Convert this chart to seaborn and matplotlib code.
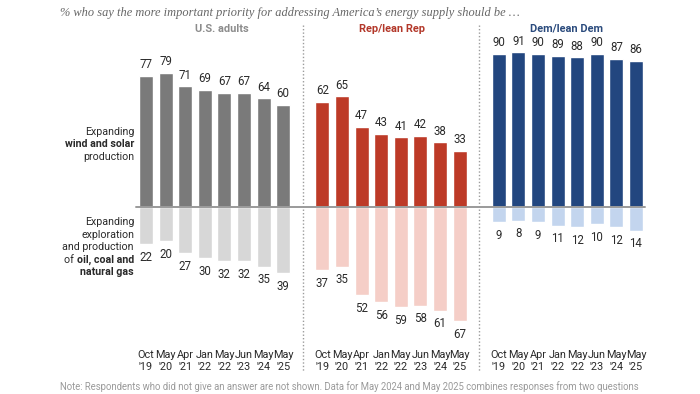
import matplotlib
matplotlib.use("Agg")
import matplotlib.pyplot as plt
import matplotlib.transforms as mtransforms
import seaborn as sns
import pandas as pd

# ---------------- data ----------------
waves = ["Oct\n'19", "May\n'20", "Apr\n'21", "Jan\n'22", "May\n'22", "Jun\n'23", "May\n'24", "May\n'25"]
groups = ["U.S. adults", "Rep/lean Rep", "Dem/lean Dem"]
wind_solar = {
    "U.S. adults": [77, 79, 71, 69, 67, 67, 64, 60],
    "Rep/lean Rep": [62, 65, 47, 43, 41, 42, 38, 33],
    "Dem/lean Dem": [90, 91, 90, 89, 88, 90, 87, 86],
}
fossil = {
    "U.S. adults": [22, 20, 27, 30, 32, 32, 35, 39],
    "Rep/lean Rep": [37, 35, 52, 56, 59, 58, 61, 67],
    "Dem/lean Dem": [9, 8, 9, 11, 12, 10, 12, 14],
}
subtitle = "% who say the more important priority for addressing America\u2019s energy supply should be \u2026"
note = ("Note: Respondents who did not give an answer are not shown. Data for May 2024 and May 2025 "
        "combines responses from two questions")

# ---------------- styles ----------------
dark = {"U.S. adults": "#7a7a7a", "Rep/lean Rep": "#bd3a27", "Dem/lean Dem": "#22467f"}
light = {"U.S. adults": "#d7d7d7", "Rep/lean Rep": "#f5cec7", "Dem/lean Dem": "#c3d5ee"}
title_col = {"U.S. adults": "#8c8c8c", "Rep/lean Rep": "#b3382a", "Dem/lean Dem": "#2b4b7d"}
text_col = "#2a2a2a"

sns.set_theme(style="white")
plt.rcParams["font.family"] = ["Roboto", "DejaVu Sans"]

W, H, DPI = 700, 394, 100
fig = plt.figure(figsize=(W / DPI, H / DPI), dpi=DPI)
ax = fig.add_axes([0, 0, 1, 1])

gap = len(waves) + 1
rows = []
for gi, g in enumerate(groups):
    for i, w in enumerate(waves):
        pos = gi * gap + i
        rows.append({"pos": pos, "value": wind_solar[g][i], "key": g + "_pos"})
        rows.append({"pos": pos, "value": -fossil[g][i], "key": g + "_neg"})
df = pd.DataFrame(rows)
palette = {}
for g in groups:
    palette[g + "_pos"] = dark[g]
    palette[g + "_neg"] = light[g]

sns.barplot(data=df, x="pos", y="value", hue="key", palette=palette, native_scale=True,
            width=0.72, dodge=False, saturation=1, legend=False, ax=ax, errorbar=None)

# pixel mapping
x0_px, step_px = 146.0, 19.6
zero_px, unit_px = 207.0, 1.70
ax.set_xlim(-x0_px / step_px, (W - x0_px) / step_px)
ax.set_ylim(-(H - zero_px) / unit_px, zero_px / unit_px)
ax.axis("off")

# zero line
ax.plot([-0.51, (gap * 3 - 1) - 0.54], [0, 0], color="#9a9a9a", lw=1.4, zorder=5)

# dividers
for gi in range(1, 3):
    xd = gi * gap - 1
    ax.plot([xd, xd], [(zero_px - 25) / unit_px, -(372 - zero_px) / unit_px],
            color="#9c9c9c", lw=1.0, ls=(0, (1, 1.5)), zorder=1)

# value labels
for gi, g in enumerate(groups):
    for i in range(len(waves)):
        pos = gi * gap + i
        v = wind_solar[g][i]
        ax.annotate(str(v), (pos, v), xytext=(0, 8), textcoords="offset points",
                    ha="center", va="center", fontsize=8.3, color=text_col)
        f = fossil[g][i]
        ax.annotate(str(f), (pos, -f), xytext=(0, -9.5), textcoords="offset points",
                    ha="center", va="center", fontsize=8.3, color=text_col)

# x tick labels
blend = mtransforms.blended_transform_factory(ax.transData, fig.transFigure)
for gi, g in enumerate(groups):
    for i, w in enumerate(waves):
        ax.text(gi * gap + i, 1 - 361 / H, w, transform=blend, ha="center", va="center",
                fontsize=7.8, color=text_col, linespacing=1.15)

# panel titles
title_x = {"U.S. adults": 222, "Rep/lean Rep": 392, "Dem/lean Dem": 567}
for g in groups:
    fig.text(title_x[g] / W, 1 - 29 / H, g, ha="center", va="center", fontsize=7.9,
             fontweight="bold", color=title_col[g])

# subtitle and note
fig.text(60 / W, 1 - 13 / H, subtitle, ha="left", va="center", fontsize=8.9, style="italic",
         color="#666666", family=["Liberation Serif", "DejaVu Serif"])
fig.text(60 / W, 1 - 387 / H, note, ha="left", va="center", fontsize=6.85, color="#9a9a9a")

# left side labels (mixed weights)
renderer = fig.canvas.get_renderer()
right_px = 134


def label_line(y_px, parts):
    # parts: list of (text, weight), placed right to left
    x = right_px
    for txt, wt in reversed(parts):
        t = fig.text(x / W, 1 - y_px / H, txt, ha="right", va="center", fontsize=7.7,
                     fontweight=wt, color=text_col)
        bb = t.get_window_extent(renderer=renderer)
        x -= bb.width


label_line(131.7, [("Expanding", "normal")])
label_line(144.4, [("wind and solar", "bold")])
label_line(157.1, [("production", "normal")])
label_line(222.3, [("Expanding", "normal")])
label_line(235.0, [("exploration", "normal")])
label_line(247.3, [("and production", "normal")])
label_line(260.0, [("of ", "normal"), ("oil, coal and", "bold")])
label_line(272.3, [("natural gas", "bold")])

fig.savefig("out.png", dpi=DPI)
